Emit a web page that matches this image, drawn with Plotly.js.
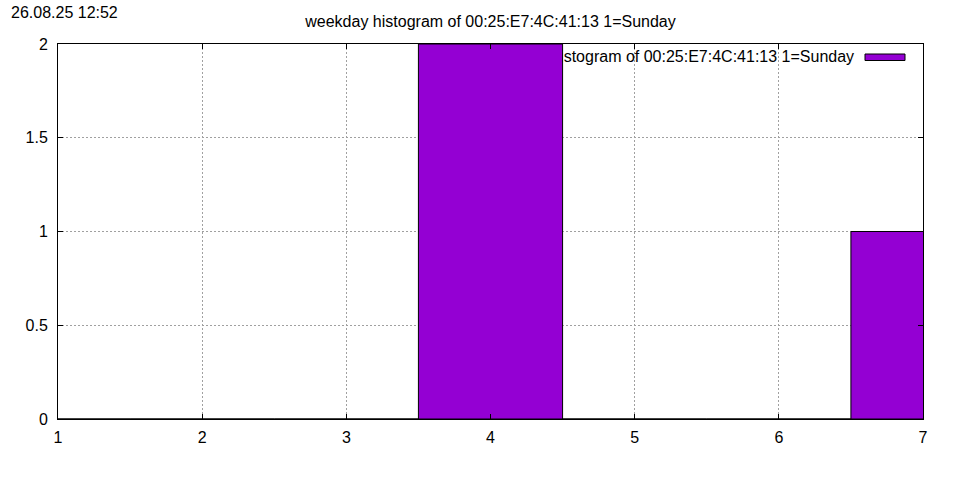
<!DOCTYPE html>
<html>
<head>
<meta charset="utf-8">
<script src="https://cdn.plot.ly/plotly-3.0.1.min.js"></script>
<style>html,body{margin:0;padding:0;background:#fff;}#chart{width:960px;height:480px;}</style>
</head>
<body>
<div id="chart"></div>
<script>
const weekdays = [1, 2, 3, 4, 5, 6, 7];
const counts = [0, 0, 0, 2, 0, 0, 1];
const xTicks = [1, 2, 3, 4, 5, 6, 7];
const yTicks = [0, 0.5, 1, 1.5, 2];
const yTickLabels = ['0', '0.5', '1', '1.5', '2'];
const seriesName = 'weekday histogram of 00:25:E7:4C:41:13 1=Sunday';
const titleText = 'weekday histogram of 00:25:E7:4C:41:13 1=Sunday';
const timestamp = '26.08.25 12:52';

const FONT = 'Liberation Sans, Arial, sans-serif';
const BAR = '#9400D3';

// legend label drawn beneath the bars (as gnuplot does)
const legendText = {
  type: 'scatter', mode: 'text',
  x: [6.522], y: [1.928],
  text: [seriesName], textposition: 'middle left',
  textfont: {family: FONT, size: 16, color: '#000'},
  xaxis: 'x', yaxis: 'y', hoverinfo: 'skip', showlegend: false
};

const bars = {
  type: 'bar', x: weekdays, y: counts, width: 1,
  name: seriesName,
  marker: {color: BAR, line: {color: '#000', width: 1}},
  xaxis: 'x2', yaxis: 'y2', hoverinfo: 'skip', showlegend: false
};

const axisCommon = {
  showline: true, linecolor: '#000', linewidth: 1, mirror: 'ticks',
  ticks: 'inside', ticklen: 5, tickwidth: 1, tickcolor: '#000',
  showgrid: true, gridcolor: '#a0a0a0', gridwidth: 1, griddash: '2px,2px',
  zeroline: false,
  tickfont: {family: FONT, size: 16, color: '#000'}
};

const layout = {
  width: 960, height: 480,
  margin: {l: 58, r: 37, t: 44, b: 61, pad: 0},
  paper_bgcolor: '#fff', plot_bgcolor: '#fff',
  showlegend: false,
  title: {text: titleText, font: {family: FONT, size: 16, color: '#000'},
          x: 0.5, xref: 'paper', xanchor: 'center', y: 1 - 21/480, yanchor: 'middle'},
  xaxis: Object.assign({}, axisCommon, {range: [1, 7], tickvals: xTicks, ticktext: xTicks.map(String), ticklabelstandoff: 4}),
  yaxis: Object.assign({}, axisCommon, {range: [0, 2], tickvals: yTicks, ticktext: yTickLabels, ticklabelstandoff: 6}),
  xaxis2: {overlaying: 'x', range: [1, 7], visible: false, showgrid: false, zeroline: false},
  yaxis2: {overlaying: 'y', range: [0, 2], visible: false, showgrid: false, zeroline: false},
  shapes: [{
    type: 'rect', xref: 'paper', yref: 'paper',
    x0: (865 - 58) / 865, x1: (905 - 58) / 865,
    y0: (419 - 60.5) / 375, y1: (419 - 54) / 375,
    fillcolor: BAR, line: {color: '#000', width: 1}, layer: 'above'
  }],
  annotations: [{
    text: timestamp, xref: 'paper', yref: 'paper',
    x: (9 - 58) / 865, y: (419 - 12.5) / 375, xanchor: 'left', yanchor: 'middle',
    showarrow: false, font: {family: FONT, size: 16, color: '#000'}
  }]
};

Plotly.newPlot('chart', [legendText, bars], layout, {displayModeBar: false, staticPlot: true});
</script>
</body>
</html>
